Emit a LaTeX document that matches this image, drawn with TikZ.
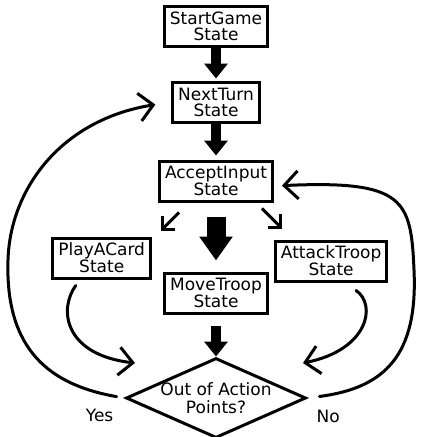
\documentclass[tikz,border=0pt]{standalone}
\usepackage{fontspec}
\setmainfont{DejaVu Sans}
\usetikzlibrary{shapes.geometric, arrows.meta, positioning}

\begin{document}
\begin{tikzpicture}[
    x=1pt, y=-1pt,
    node distance=33pt,
    box/.style={rectangle, draw, line width=3pt, align=center, inner xsep=5.5pt, inner ysep=0.5pt, minimum height=40pt, font=\fontsize{17}{16}\selectfont},
    choice/.style={diamond, draw, line width=3pt, align=center, aspect=2.25, inner sep=-3pt, minimum width=180pt, minimum height=80pt, font=\fontsize{17}{18}\selectfont},
    tag/.style={inner sep=0pt, font=\fontsize{17}{16}\selectfont},
    fat/.style={line width=10pt, -{Triangle[length=15pt,width=23pt]}},
    bigfat/.style={line width=19pt, -{Triangle[length=24pt,width=32pt]}},
    branch/.style={line width=3pt, -{Straight Barb[length=9pt,width=18pt]}},
    backline/.style={line width=3pt, line cap=round, -{Straight Barb[length=14pt,width=28pt]}}
]
\useasboundingbox (0,0) rectangle (425,437);

% States
\node[box] (start) at (216,26) {StartGame\\State};
\node[box, below=33pt of start] (next) {NextTurn\\State};
\node[box, below=36pt of next] (accept) {AcceptInput\\State};
\node[box, below left=34pt and 6pt of accept] (play) {PlayACard\\State};
\node[box, below=69pt of accept] (move) {MoveTroop\\State};
\node[box, below right=37pt and 0pt of accept] (attack) {AttackTroop\\State};

% Decision
\node[choice, below=42pt of move] (decide) {Out of Action\\Points?};
\node[tag, below left=11pt and 11pt of decide.west] (yes) {Yes};
\node[tag, below right=12pt and 9pt of decide.east] (no) {No};

% Main flow
\draw[fat, shorten >=2pt] (start) -- (next);
\draw[fat, shorten >=4pt] (next) -- (accept);
\draw[bigfat, shorten <=14pt, shorten >=11pt] (accept) -- (move);
\draw[fat, shorten <=11pt] (move) -- (decide);

% Branches
\draw[branch] ([xshift=21pt,yshift=-10pt]accept.south west) -- ([xshift=9pt,yshift=6pt]play.north east);
\draw[branch] ([xshift=-12pt,yshift=-6pt]accept.south east) -- ([xshift=8pt,yshift=11pt]attack.north west);

% Back to the decision
\coordinate (playin) at (135,363);
\coordinate (attackin) at (303,363);
\draw[backline] ([xshift=-26pt,yshift=-6pt]play.south) .. controls (58,310) and (65,355) .. (playin);
\draw[backline] ([xshift=25pt,yshift=-8pt]attack.south) .. controls (377,305) and (368,350) .. (attackin);

% Loops
\coordinate (yesbend) at (8,260);
\coordinate (nobend) at (414,270);
\draw[backline, shorten <=8pt, shorten >=16pt] (decide.west) .. controls (50,385) and (5,350) .. (yesbend) .. controls (10,190) and (60,120) .. (next.west);
\draw[backline, shorten <=12pt, shorten >=8pt] (decide.east) .. controls (385,388) and (418,355) .. (nobend) .. controls (411,200) and (405,180) .. ([yshift=-5pt]accept.east);

\end{tikzpicture}
\end{document}
